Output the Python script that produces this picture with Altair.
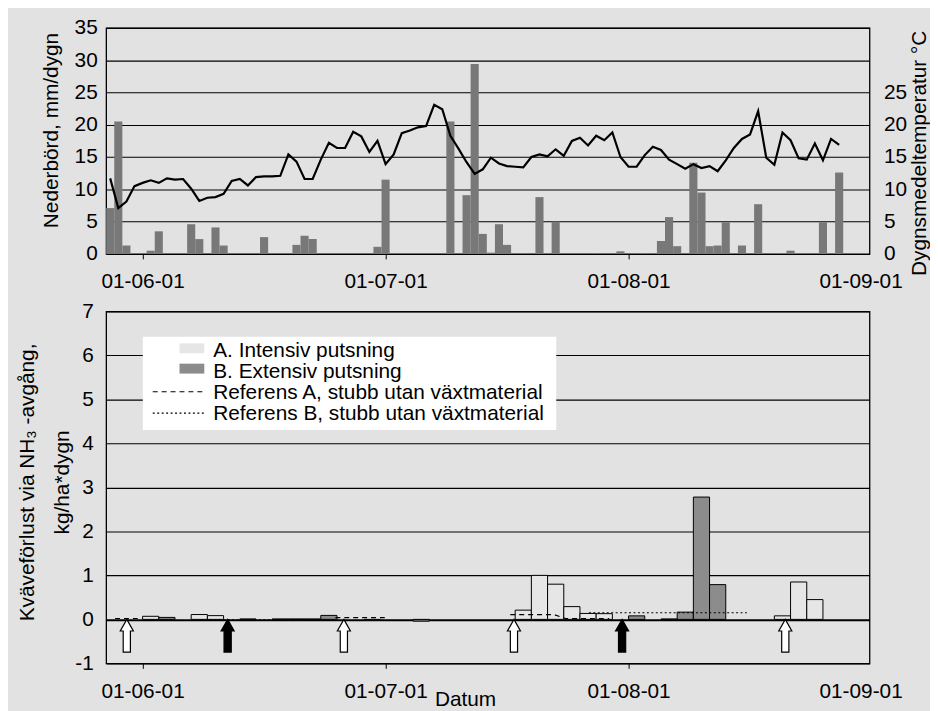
import altair as alt
import pandas as pd

# ---------------- data ----------------
# day index 0 = first day shown (bars are daily)
day_index = list(range(91))
precip = [7.1, 20.5, 1.3, 0, 0, 0.5, 3.5, 0, 0, 0,
          4.6, 2.3, 0, 4.1, 1.3, 0, 0, 0, 0, 2.6,
          0, 0, 0, 1.4, 2.8, 2.3, 0, 0, 0, 0,
          0, 0, 0, 1.1, 11.5, 0, 0, 0, 0, 0,
          0, 0, 20.5, 0, 9.1, 29.4, 3.1, 0.2, 4.6, 1.4,
          0.1, 0.1, 0, 8.8, 0.1, 5.0, 0, 0, 0, 0,
          0.1, 0, 0, 0.4, 0, 0, 0.1, 0, 2.0, 5.7,
          1.2, 0, 14.1, 9.5, 1.2, 1.3, 4.9, 0.1, 1.3, 0,
          7.7, 0, 0.1, 0.1, 0.5, 0.1, 0, 0, 4.9, 0,
          12.6]
temp = [11.7, 7.1, 8.1, 10.5, 11.0, 11.4, 11.0, 11.7, 11.5, 11.6,
        10.1, 8.2, 8.7, 8.8, 9.3, 11.3, 11.6, 10.6, 11.9, 12.0,
        12.0, 12.1, 15.4, 14.3, 11.6, 11.6, 14.6, 17.2, 16.4, 16.4,
        18.9, 18.2, 15.8, 17.5, 13.9, 15.4, 18.7, 19.1, 19.6, 19.8,
        23.1, 22.4, 18.3, 16.3, 14.2, 12.4, 13.1, 14.9, 14.0, 13.6,
        13.5, 13.4, 15.0, 15.4, 15.1, 16.2, 15.2, 17.5, 18.0, 16.8,
        18.3, 17.6, 18.8, 15.0, 13.5, 13.5, 15.3, 16.6, 16.1, 14.6,
        13.9, 13.2, 13.9, 13.3, 13.6, 12.8, 14.5, 16.4, 17.8, 18.5,
        22.1, 14.9, 13.8, 18.8, 17.6, 14.8, 14.6, 17.1, 14.5, 17.8,
        16.9]

# NH3 loss per measuring period (period start in day index, 2-day periods)
a_start = [4, 10, 12, 16, 20, 50, 52, 54, 56, 58, 60, 82, 84, 86]
a_value = [0.07, 0.11, 0.085, 0.01, 0.01, 0.21, 1.0, 0.80, 0.29, 0.135, 0.13, 0.08, 0.85, 0.45]
b_start = [6, 22, 24, 26, 31.4, 37.4, 64, 68, 70, 72, 74]
b_value = [0.045, 0.01, 0.01, 0.09, -0.02, -0.04, 0.08, 0.01, 0.165, 2.78, 0.79]
period_days = 2

# reference plots (stubble without plant material)
refA_seg = [1, 1, 2, 2, 3, 3, 3, 3]
refA_day = [0.6, 3.4, 27.8, 33.9, 49.4, 54.8, 56.2, 61.6]
refA_val = [0.02, 0.02, 0.04, 0.04, 0.11, 0.11, 0.02, 0.02]
refB_seg = [1, 1, 2, 2]
refB_day = [11.2, 23.9, 59.1, 78.6]
refB_val = [-0.01, -0.01, 0.15, 0.15]

# topping events (arrows)
white_arrow_day = [2.05, 28.85, 49.85, 83.35]
black_arrow_day = [14.5, 63.2]

tick_pos = [4, 34, 64, 92.65]
tick_labels = ["01-06-01", "01-07-01", "01-08-01", "01-09-01"]

legend_labels = ["A. Intensiv putsning", "B. Extensiv putsning",
                 "Referens A, stubb utan växtmaterial",
                 "Referens B, stubb utan växtmaterial"]

# ---------------- frames ----------------
df_top = pd.DataFrame({"k": day_index, "precip": precip, "temp": temp})
df_a = pd.DataFrame({"start": a_start, "val": a_value})
df_b = pd.DataFrame({"start": b_start, "val": b_value})
df_refA = pd.DataFrame({"k": refA_day, "val": refA_val, "seg": refA_seg})
df_refB = pd.DataFrame({"k": refB_day, "val": refB_val, "seg": refB_seg})
df_wa = pd.DataFrame({"k": white_arrow_day})
df_ba = pd.DataFrame({"k": black_arrow_day})
one = pd.DataFrame({"o": [0]})

FONT = "Liberation Sans"
FS = 21
LIGHT = "#e6e6e6"
DARK = "#8c8c8c"
ARROW = "M0,-1L0.4,-0.29L0.22,-0.29L0.22,1L-0.22,1L-0.22,-0.29L-0.4,-0.29Z"

W = 770
xscale = alt.Scale(domain=[-0.5, 93.75], nice=False, zero=False)
label_expr = " : ".join(
    f"datum.value == {p} ? '{l}'" for p, l in zip(tick_pos[:-1], tick_labels[:-1])
) + f" : '{tick_labels[-1]}'"


def x_axis(**kw):
    return alt.Axis(values=tick_pos, labelExpr=label_expr, grid=False, domain=False,
                    ticks=True, tickSize=5, tickColor="black", tickWidth=1,
                    tickOpacity={"condition": {"test": "datum.value > 90", "value": 0}, "value": 1},
                    labelPadding=12, labelFlush=False, labelOverlap=False, **kw)


xa_top = x_axis(title=None)
xa_bot = x_axis(title="Datum", titleX=362, titleY=42, titleBaseline="alphabetic",
                titleAlign="center")

# ---------------- top panel ----------------
y_left = alt.Axis(values=list(range(0, 36, 5)), grid=True, gridColor="black", gridWidth=1.1,
                  domain=False, ticks=False, labelPadding=9,
                  title="Nederbörd, mm/dygn", titleAngle=270, titleX=-49, titleY=103,
                  titleBaseline="alphabetic", titleAlign="center")
y_right = alt.Axis(orient="right", values=list(range(0, 26, 5)), grid=False, domain=False,
                   ticks=False, labelPadding=14,
                   title="Dygnsmedeltemperatur °C", titleAngle=270, titleX=56, titleY=126,
                   titleBaseline="alphabetic", titleAlign="center")

bars_top = alt.Chart(df_top).transform_calculate(
    x0="datum.k - 0.5", x1="datum.k + 0.5"
).mark_bar(color="#787878").encode(
    x=alt.X("x0:Q", scale=xscale, axis=xa_top),
    x2="x1:Q",
    y=alt.Y("precip:Q", scale=alt.Scale(domain=[0, 35], nice=False), axis=y_left),
    y2=alt.datum(0),
)
line_top = alt.Chart(df_top).mark_line(color="black", strokeWidth=2.2).encode(
    x=alt.X("k:Q", scale=xscale, axis=xa_top),
    y=alt.Y("temp:Q", scale=alt.Scale(domain=[0, 35], nice=False), axis=y_right),
)
top = alt.layer(bars_top, line_top).resolve_scale(y="independent").properties(
    width=W, height=228)

# ---------------- bottom panel ----------------
y_bot = alt.Axis(values=list(range(-1, 8)), grid=True, gridColor="black",
                 gridWidth={"condition": {"test": "datum.value === 0", "value": 2.2}, "value": 1.1},
                 domain=False, ticks=False, labelPadding=13, labelExpr="'' + datum.value",
                 title=["Kväveförlust via NH₃ -avgång,", "kg/ha*dygn"], titleAngle=270,
                 titleX=-73.5, titleY=172, titleBaseline="alphabetic", titleAlign="center",
                 titleLineHeight=36)
yscale_b = alt.Scale(domain=[-1, 7], nice=False, zero=False)


def period_bars(df, fill):
    return alt.Chart(df).transform_calculate(
        end=f"datum.start + {period_days}"
    ).mark_bar(fill=fill, stroke="black", strokeWidth=1).encode(
        x=alt.X("start:Q", scale=xscale, axis=xa_bot),
        x2="end:Q",
        y=alt.Y("val:Q", scale=yscale_b, axis=y_bot),
        y2=alt.datum(0),
    )


bars_a = period_bars(df_a, LIGHT)
bars_b = period_bars(df_b, DARK)


def ref_line(df, dash):
    return alt.Chart(df).mark_line(color="black", strokeWidth=1.2, strokeDash=dash).encode(
        x=alt.X("k:Q", scale=xscale, axis=xa_bot),
        y=alt.Y("val:Q", scale=yscale_b, axis=y_bot),
        detail="seg:N",
    )


line_a = ref_line(df_refA, [5, 4])
line_b = ref_line(df_refB, [2, 2.5])


def arrows(df, fill):
    return alt.Chart(df).mark_point(shape=ARROW, size=1089, filled=True, fill=fill,
                                    stroke="black", strokeWidth=1.2, opacity=1).encode(
        x=alt.X("k:Q", scale=xscale, axis=xa_bot),
        y=alt.datum(-0.372, scale=yscale_b),
    )


arr_w = arrows(df_wa, "white")
arr_b = arrows(df_ba, "black")

# legend (drawn as a boxed key inside the plot)
ROW = 21.2
leg_layers = [
    alt.Chart(one).mark_rect(fill="white").encode(
        x=alt.value(37), x2=alt.value(454), y=alt.value(25.5), y2=alt.value(119.5)),
    alt.Chart(one).mark_rect(fill=LIGHT).encode(
        x=alt.value(74), x2=alt.value(99), y=alt.value(32.2), y2=alt.value(42.2)),
    alt.Chart(one).mark_rect(fill=DARK).encode(
        x=alt.value(74), x2=alt.value(99), y=alt.value(52.7), y2=alt.value(62.7)),
    alt.Chart(one).mark_rule(color="black", strokeWidth=1.2, strokeDash=[5, 4]).encode(
        x=alt.value(47), x2=alt.value(99), y=alt.value(81)),
    alt.Chart(one).mark_rule(color="black", strokeWidth=1.2, strokeDash=[2, 2.5]).encode(
        x=alt.value(47), x2=alt.value(99), y=alt.value(102.5)),
]
for i, lab in enumerate(legend_labels):
    leg_layers.append(
        alt.Chart(one).mark_text(text=lab, font=FONT, fontSize=FS, color="black",
                                 align="left", baseline="alphabetic").encode(
            x=alt.value(108), y=alt.value(45.5 + ROW * i))
    )

bottom = alt.layer(bars_a, bars_b, line_a, line_b, arr_w, arr_b, *leg_layers).properties(
    width=W, height=355)

chart = alt.VConcatChart(vconcat=[top, bottom], spacing=58, bounds="flush").properties(
    padding={"left": 7, "top": 5, "right": 0, "bottom": 0},
    background="#e2e2e2",
).configure_axis(
    labelFont=FONT, labelFontSize=FS, labelColor="black",
    titleFont=FONT, titleFontSize=FS, titleFontWeight="normal", titleColor="black",
).configure_view(stroke="black", strokeWidth=1.3)

chart.save("out.html", embed_options={"renderer": "svg", "actions": False})
